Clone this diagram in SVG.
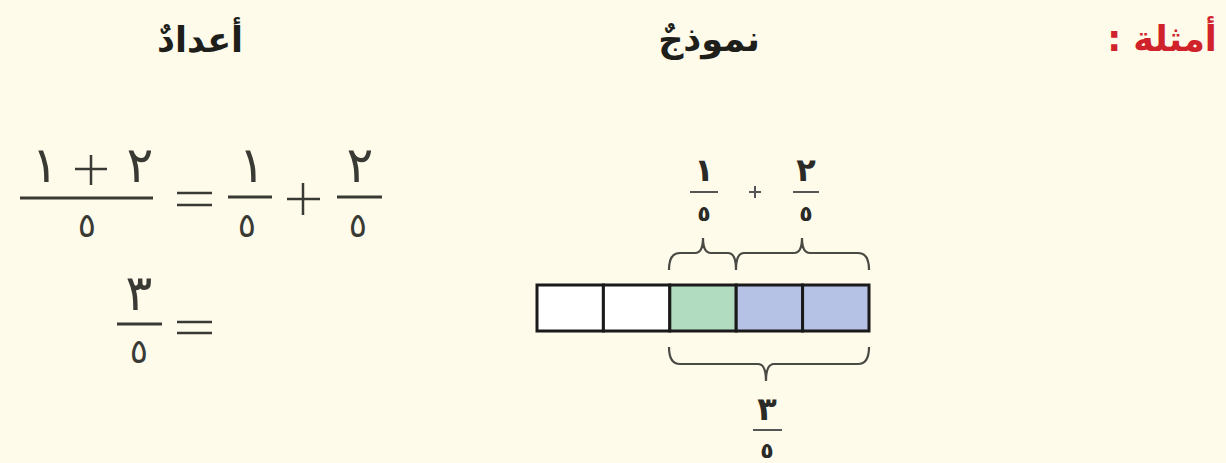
<svg xmlns="http://www.w3.org/2000/svg" width="1226" height="463" viewBox="0 0 1226 463">
<style>
.hd{font-family:"DejaVu Sans",sans-serif;font-weight:bold;font-size:35px;fill:#1e1e1a;text-anchor:middle}
.red{fill:#d0222a}
.n{font-family:"DejaVu Sans",sans-serif;font-size:50px;fill:#3a3a35;text-anchor:middle}
.d{font-family:"DejaVu Sans",sans-serif;font-size:34px;fill:#3a3a35;text-anchor:middle}
.s{font-family:"DejaVu Sans",sans-serif;font-weight:bold;font-size:32px;fill:#2a2a26;text-anchor:middle}
.sd{font-family:"DejaVu Sans",sans-serif;font-weight:bold;font-size:22px;fill:#2a2a26;text-anchor:middle}
.bar{stroke:#3a3a35;stroke-width:3}
.sbar{stroke:#555;stroke-width:2}
.op{stroke:#3a3a35;stroke-width:2.5}
.cell{stroke:#1a1a1a;stroke-width:3}
.brace{fill:none;stroke:#4a4a44;stroke-width:2.2}
</style>
<rect width="1226" height="463" fill="#fffbeb"/>
<g id="headers">
<text class="hd" x="200" y="52">أعدادٌ</text>
<text class="hd" x="709" y="51">نموذجٌ</text>
<text class="hd red" x="1162" y="51" direction="rtl" style="text-anchor:middle">أمثلة :</text>
</g>
<g id="equation1">
<text class="n" x="45" y="182">١</text>
<line class="op" x1="75" y1="169" x2="107" y2="169"/>
<line class="op" x1="91" y1="155" x2="91" y2="185"/>
<text class="n" x="140" y="182">٢</text>
<line class="bar" x1="20" y1="198" x2="153" y2="198"/>
<text class="d" x="87" y="237">٥</text>
<line class="op" x1="177" y1="193" x2="212" y2="193"/>
<line class="op" x1="177" y1="205" x2="212" y2="205"/>
<text class="n" x="252" y="182">١</text>
<line class="bar" x1="228" y1="197" x2="272" y2="197"/>
<text class="d" x="247" y="237">٥</text>
<line class="op" x1="287" y1="199" x2="320" y2="199"/>
<line class="op" x1="303" y1="183" x2="303" y2="215"/>
<text class="n" x="360" y="182">٢</text>
<line class="bar" x1="337" y1="197" x2="382" y2="197"/>
<text class="d" x="358" y="237">٥</text>
</g>
<g id="equation2">
<text class="n" x="139" y="310">٣</text>
<line class="bar" x1="117" y1="324" x2="162" y2="324"/>
<text class="d" x="139" y="363">٥</text>
<line class="op" x1="177" y1="322" x2="212" y2="322"/>
<line class="op" x1="177" y1="333" x2="212" y2="333"/>
</g>
<g id="model">
<rect class="cell" x="537" y="285" width="66.4" height="46" fill="#ffffff"/>
<rect class="cell" x="603.4" y="285" width="66.4" height="46" fill="#ffffff"/>
<rect class="cell" x="669.8" y="285" width="66.4" height="46" fill="#b2dcc0"/>
<rect class="cell" x="736.2" y="285" width="66.4" height="46" fill="#b5c2e6"/>
<rect class="cell" x="802.6" y="285" width="66.4" height="46" fill="#b5c2e6"/>
</g>
<g id="top-labels">
<text class="s" x="704" y="181">١</text>
<line class="sbar" x1="690" y1="192" x2="718" y2="192"/>
<text class="sd" x="704" y="221">٥</text>
<line class="sbar" x1="749" y1="192" x2="761" y2="192"/>
<line class="sbar" x1="755" y1="186" x2="755" y2="198"/>
<text class="s" x="806" y="181">٢</text>
<line class="sbar" x1="793" y1="192" x2="819" y2="192"/>
<text class="sd" x="806" y="221">٥</text>
</g>
<g id="bottom-label">
<text class="s" x="767" y="420">٣</text>
<line class="sbar" x1="753" y1="430" x2="782" y2="430"/>
<text class="sd" x="767" y="458">٥</text>
</g>
<g id="connectors">
<path class="brace" d="M669,270 Q669,253 680,253 L695,253 Q703,253 703,238 Q703,253 711,253 L728,253 Q736,253 736,270 Q736,253 744,253 L794,253 Q802,253 802,238 Q802,253 810,253 L858,253 Q869,253 869,270"/>
<path class="brace" d="M669,347 Q669,364 680,364 L758,364 Q766,364 766,381 Q766,364 774,364 L858,364 Q869,364 869,347"/>
</g>
</svg>
